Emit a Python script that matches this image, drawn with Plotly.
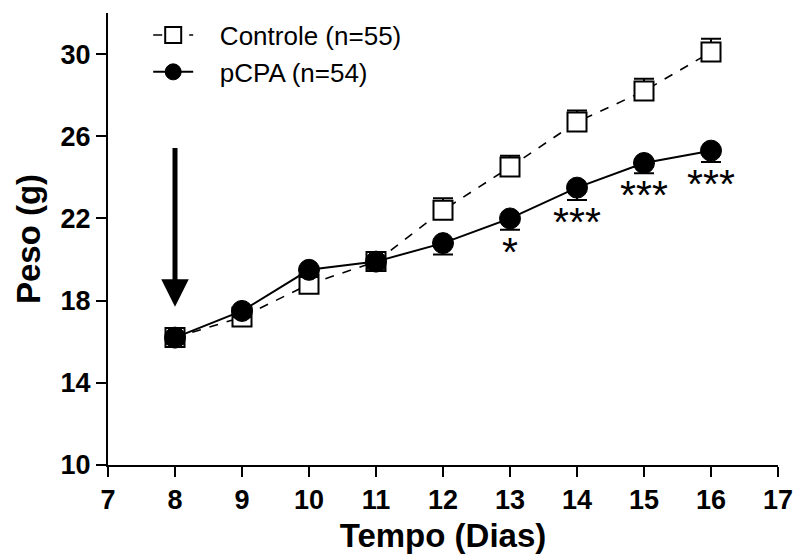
import plotly.graph_objects as go

# Body weight over time (mean ± SEM)
dias = [8, 9, 10, 11, 12, 13, 14, 15, 16]
controle = [16.2, 17.2, 18.8, 19.9, 22.4, 24.5, 26.7, 28.2, 30.1]
controle_sem = [0.3, 0.3, 0.35, 0.35, 0.58, 0.55, 0.55, 0.6, 0.65]
pcpa = [16.2, 17.5, 19.5, 19.9, 20.8, 22.0, 23.5, 24.7, 25.3]
pcpa_sem = [0.3, 0.3, 0.35, 0.35, 0.55, 0.55, 0.6, 0.5, 0.55]

# significance marks below the pCPA points
sig_dias = [13, 14, 15, 16]
sig_text = ["*", "***", "***", "***"]

x_ticks = list(range(7, 18))
y_ticks = [10, 14, 18, 22, 26, 30]

pad = "\u00a0\u00a0\u00a0"

fig = go.Figure()

fig.add_trace(go.Scatter(
    x=dias, y=controle, name=pad + "Controle (n=55)", mode="lines+markers",
    line=dict(color="black", width=1.6, dash="dash"),
    marker=dict(symbol="square", size=19, color="white",
                line=dict(color="black", width=2)),
    error_y=dict(type="data", array=controle_sem,
                 arrayminus=[0] * len(dias), color="black",
                 thickness=2, width=10),
))

fig.add_trace(go.Scatter(
    x=dias, y=pcpa, name=pad + "pCPA (n=54)", mode="lines+markers",
    line=dict(color="black", width=2),
    marker=dict(symbol="circle", size=21, color="black",
                line=dict(color="black", width=1)),
    error_y=dict(type="data", array=[0] * len(dias),
                 arrayminus=pcpa_sem, color="black",
                 thickness=2, width=10),
))

# asterisks
for d, t in zip(sig_dias, sig_text):
    i = dias.index(d)
    fig.add_annotation(x=d, y=pcpa[i] - pcpa_sem[i], text=t,
                       showarrow=False, yanchor="top", yshift=3,
                       font=dict(family="Liberation Sans", size=41,
                                 color="black"))

# treatment start arrow
fig.add_annotation(x=8, y=17.7, ax=8, ay=25.5, axref="x", ayref="y",
                   xref="x", yref="y", text="", showarrow=True,
                   arrowhead=2, arrowsize=1.1, arrowwidth=5,
                   arrowcolor="black")

tick_font = dict(family="Liberation Sans", size=27, weight="bold")

fig.update_layout(
    width=801, height=558,
    margin=dict(l=108, r=23, t=13, b=93, autoexpand=False),
    paper_bgcolor="white", plot_bgcolor="white",
    font=dict(family="Liberation Sans", color="black"),
    showlegend=True,
    legend=dict(x=0.06, y=1.003, xanchor="left", yanchor="top",
                bgcolor="rgba(0,0,0,0)",
                font=dict(family="Liberation Sans", size=26),
                itemwidth=40, tracegroupgap=0),
    xaxis=dict(range=[7, 17], tickvals=x_ticks,
               ticktext=[f"<b>{v}</b>" for v in x_ticks],
               showgrid=False, automargin=False,
               zeroline=False, showline=True, linecolor="black",
               linewidth=2, ticks="outside", ticklen=10, tickwidth=2,
               tickcolor="black", tickfont=tick_font,
               title=dict(text="<b>Tempo (Dias)</b>", standoff=9,
                          font=dict(family="Liberation Sans", size=33))),
    yaxis=dict(range=[10, 32], tickvals=y_ticks,
               ticktext=[f"<b>{v}</b>" for v in y_ticks],
               showgrid=False, automargin=False,
               zeroline=False, showline=True, linecolor="black",
               linewidth=2, ticks="outside", ticklen=10, tickwidth=2,
               tickcolor="black", tickfont=tick_font,
               title=dict(text="<b>Peso (g)</b>", standoff=10,
                          font=dict(family="Liberation Sans", size=33))),
)

fig.write_html("out.html")
